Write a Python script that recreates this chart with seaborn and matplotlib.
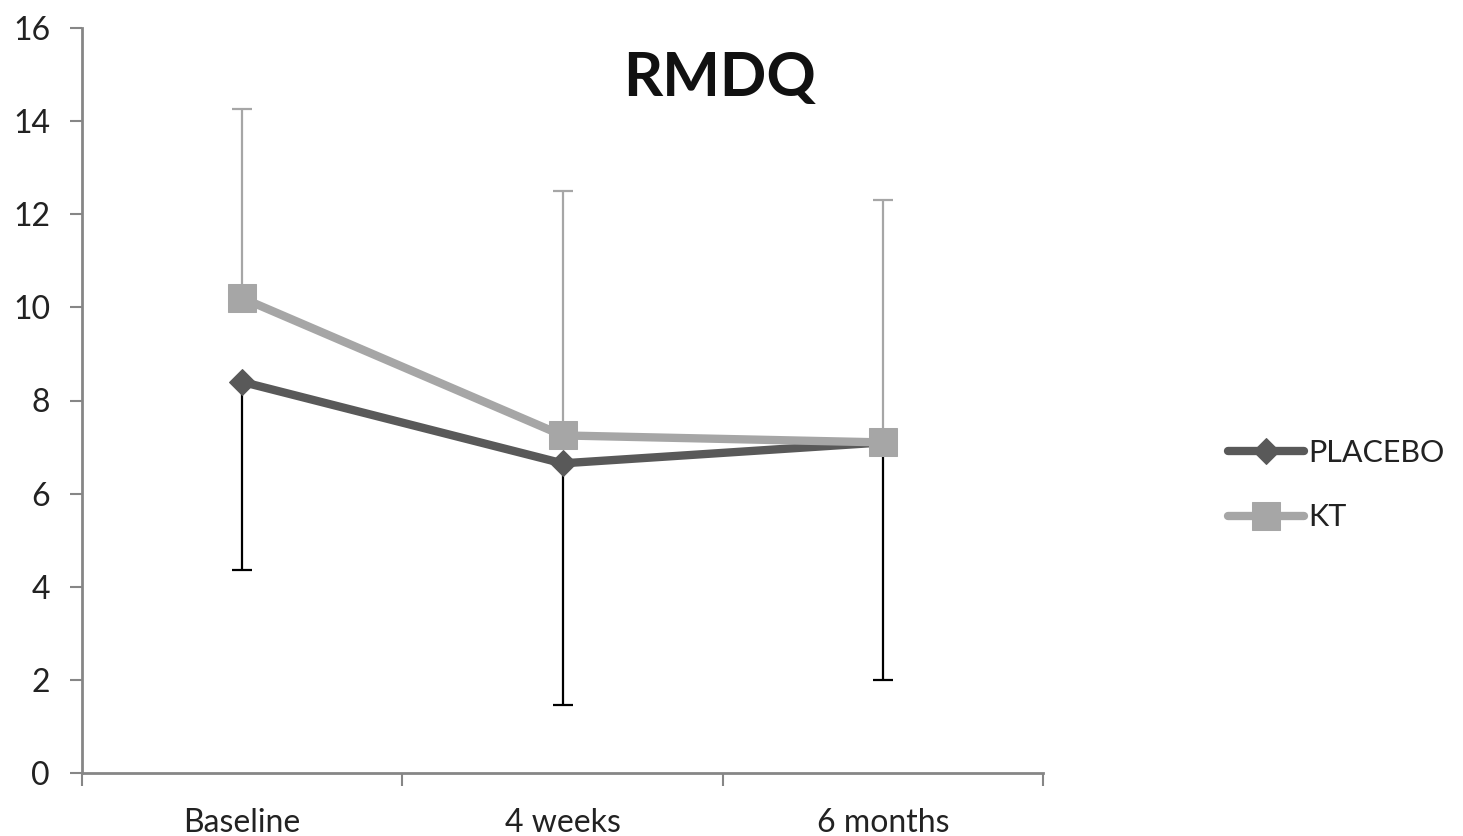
import pandas as pd
import matplotlib
matplotlib.use("Agg")
import matplotlib.pyplot as plt
import seaborn as sns

momenty = ["Baseline", "4 weeks", "6 months"]
placebo = [8.4, 6.65, 7.1]
placebo_dol = [4.35, 1.45, 2.0]
kt = [10.2, 7.25, 7.1]
kt_gora = [14.25, 12.5, 12.3]

sns.set_style("white")
plt.rcParams['font.family'] = ['Lato', 'DejaVu Sans']

df = pd.DataFrame({
    "czas": momenty * 2,
    "wynik": placebo + kt,
    "grupa": ["PLACEBO"] * 3 + ["KT"] * 3,
})

szary_os = "#868686"
kolor_placebo = "#595959"
kolor_kt = "#A6A6A6"

fig = plt.figure(figsize=(14.63, 8.36), dpi=100)
ax = fig.add_axes([82 / 1463, 1 - 773 / 836, (1043 - 82) / 1463, (773 - 28) / 836])

poz = list(range(len(momenty)))
# slupki bledow: placebo w dol, KT w gore
ax.errorbar(poz, kt, yerr=[[0] * 3, [g - v for g, v in zip(kt_gora, kt)]],
            fmt='none', ecolor=kolor_kt, elinewidth=1.6, capsize=7, capthick=1.6, zorder=1)
ax.errorbar(poz, placebo, yerr=[[v - d for v, d in zip(placebo, placebo_dol)], [0] * 3],
            fmt='none', ecolor='black', elinewidth=1.6, capsize=7, capthick=1.6, zorder=1)

sns.lineplot(data=df[df.grupa == "PLACEBO"], x="czas", y="wynik", ax=ax, color=kolor_placebo,
             marker='D', markersize=13, markeredgecolor=kolor_placebo, linewidth=6,
             label="PLACEBO", zorder=3, sort=False)
sns.lineplot(data=df[df.grupa == "KT"], x="czas", y="wynik", ax=ax, color=kolor_kt,
             marker='s', markersize=20, markeredgecolor=kolor_kt, linewidth=6,
             label="KT", zorder=4, sort=False)

ax.set_xlim(-0.5, 2.5)
ax.set_ylim(0, 16)
ax.set_yticks(range(0, 17, 2))
ax.set_xticks([-0.5, 0.5, 1.5, 2.5])
ax.set_xticklabels([])
ax.set_xticks(poz, minor=True)
ax.set_xticklabels(momenty, minor=True)
ax.tick_params(axis='x', which='minor', length=0, pad=25, labelsize=23, labelcolor='#222222')
ax.tick_params(axis='x', which='major', length=9, width=1.5, color=szary_os, direction='out', bottom=True)
ax.tick_params(axis='y', length=9, width=1.5, color=szary_os, direction='out', left=True,
               pad=14, labelsize=23, labelcolor='#222222')
ax.set_xlabel("")
ax.set_ylabel("")
for s in ['top', 'right']:
    ax.spines[s].set_visible(False)
for s in ['left', 'bottom']:
    ax.spines[s].set_color(szary_os)
    ax.spines[s].set_linewidth(2)

fig.text(0.492, 1 - 78 / 836, "RMDQ", ha='center', va='center', fontsize=44, fontweight='bold', color='#111111')

uchwyty, etykiety = ax.get_legend_handles_labels()
ax.get_legend().remove()
fig.legend(uchwyty, etykiety,
           loc='center left', bbox_to_anchor=(1200 / 1463, 1 - 485 / 836), frameon=False,
           fontsize=22, handlelength=2.5, handletextpad=0.15, labelspacing=1.2, labelcolor='#222222')

fig.savefig("out.png", dpi=100)
